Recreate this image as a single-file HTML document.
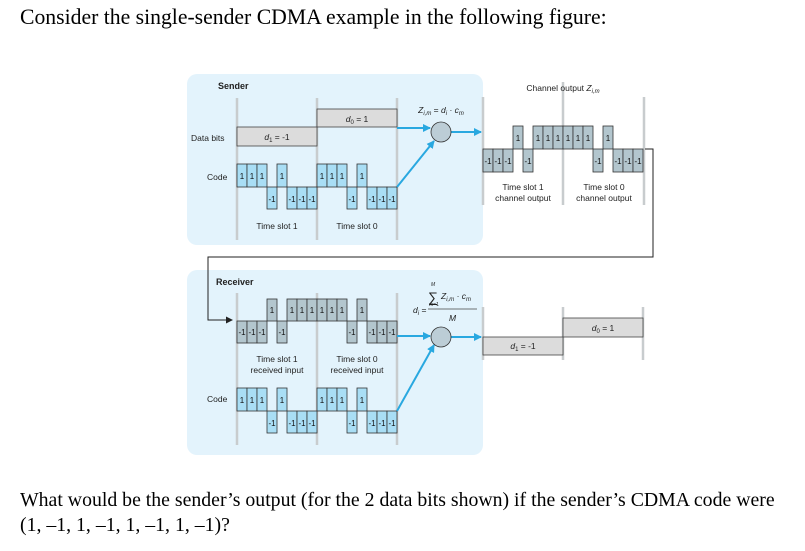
<!DOCTYPE html>
<html><head><meta charset="utf-8"><style>
html,body{margin:0;padding:0;background:#fff;}
body{width:805px;height:551px;position:relative;overflow:hidden;}
.q{position:absolute;left:20px;font-family:"Liberation Serif",serif;font-size:19.8px;color:#000;white-space:nowrap;line-height:1;}
svg{position:absolute;left:0;top:0;}
svg text{font-family:"Liberation Sans",sans-serif;}
.c text{font-size:8px;text-anchor:middle;fill:#111;}
.b rect{fill:#a9def5;stroke:#333;stroke-width:.8;}
.g rect{fill:#b3c6ce;stroke:#333;stroke-width:.8;}
</style></head><body>
<div class="q" style="top:7px;font-size:21.7px">Consider the single-sender CDMA example in the following figure:</div>
<div class="q" style="top:491px">What would be the sender’s output (for the 2 data bits shown) if the sender’s CDMA code were</div>
<div class="q" style="top:516px">(1, –1, 1, –1, 1, –1, 1, –1)?</div>
<svg width="805" height="551" viewBox="0 0 805 551">
<defs><marker id="ab" markerWidth="8" markerHeight="8" refX="7" refY="4" orient="auto" markerUnits="userSpaceOnUse"><path d="M0,0 L8,4 L0,8z" fill="#29a8e0"/></marker>
<marker id="ak" markerWidth="7" markerHeight="7" refX="6" refY="3.5" orient="auto" markerUnits="userSpaceOnUse"><path d="M0,0 L7,3.5 L0,7z" fill="#222"/></marker></defs>
<rect x="187" y="74" width="296" height="171" rx="10" fill="#e3f3fc"/>
<rect x="187" y="270" width="296" height="185" rx="10" fill="#e3f3fc"/>
<g stroke="#c8ccce" stroke-width="2.5">
<line x1="237" y1="98" x2="237" y2="240"/><line x1="317" y1="98" x2="317" y2="240"/><line x1="397" y1="98" x2="397" y2="240"/>
<line x1="237" y1="293" x2="237" y2="445"/><line x1="317" y1="293" x2="317" y2="445"/><line x1="397" y1="293" x2="397" y2="445"/>
<line x1="483" y1="97" x2="483" y2="205"/><line x1="563" y1="82" x2="563" y2="205"/><line x1="644" y1="97" x2="644" y2="205"/>
<line x1="483" y1="307" x2="483" y2="360"/><line x1="563" y1="307" x2="563" y2="360"/><line x1="643" y1="307" x2="643" y2="360"/>
</g>
<text x="218" y="89" font-size="9" font-weight="bold" fill="#222">Sender</text>
<text x="216" y="285" font-size="9" font-weight="bold" fill="#222">Receiver</text>
<text x="191" y="141" font-size="8.5" fill="#222">Data bits</text>
<text x="207" y="180" font-size="8.5" fill="#222">Code</text>
<text x="207" y="402" font-size="8.5" fill="#222">Code</text>
<rect x="317" y="109" width="80" height="18" fill="#dcdcdc" stroke="#444" stroke-width=".8"/>
<rect x="237" y="127" width="80" height="19" fill="#dcdcdc" stroke="#444" stroke-width=".8"/>
<text x="357" y="122" font-size="8.5" text-anchor="middle" fill="#222"><tspan font-style="italic">d</tspan><tspan font-size="6" dy="2">0</tspan><tspan dy="-2"> = 1</tspan></text>
<text x="277" y="140" font-size="8.5" text-anchor="middle" fill="#222"><tspan font-style="italic">d</tspan><tspan font-size="6" dy="2">1</tspan><tspan dy="-2"> = -1</tspan></text>
<rect x="563" y="318" width="80" height="19" fill="#dcdcdc" stroke="#444" stroke-width=".8"/>
<rect x="483" y="337" width="80" height="18" fill="#dcdcdc" stroke="#444" stroke-width=".8"/>
<text x="603" y="331" font-size="8.5" text-anchor="middle" fill="#222"><tspan font-style="italic">d</tspan><tspan font-size="6" dy="2">0</tspan><tspan dy="-2"> = 1</tspan></text>
<text x="523" y="349" font-size="8.5" text-anchor="middle" fill="#222"><tspan font-style="italic">d</tspan><tspan font-size="6" dy="2">1</tspan><tspan dy="-2"> = -1</tspan></text>
<g class="c b" transform="translate(237,187)"><rect x="0" y="-23" width="10" height="23"/><rect x="10" y="-23" width="10" height="23"/><rect x="20" y="-23" width="10" height="23"/><rect x="30" y="0" width="10" height="22"/><rect x="40" y="-23" width="10" height="23"/><rect x="50" y="0" width="10" height="22"/><rect x="60" y="0" width="10" height="22"/><rect x="70" y="0" width="10" height="22"/><text x="5" y="-8">1</text><text x="15" y="-8">1</text><text x="25" y="-8">1</text><text x="35" y="15">-1</text><text x="45" y="-8">1</text><text x="55" y="15">-1</text><text x="65" y="15">-1</text><text x="75" y="15">-1</text></g>
<g class="c b" transform="translate(317,187)"><rect x="0" y="-23" width="10" height="23"/><rect x="10" y="-23" width="10" height="23"/><rect x="20" y="-23" width="10" height="23"/><rect x="30" y="0" width="10" height="22"/><rect x="40" y="-23" width="10" height="23"/><rect x="50" y="0" width="10" height="22"/><rect x="60" y="0" width="10" height="22"/><rect x="70" y="0" width="10" height="22"/><text x="5" y="-8">1</text><text x="15" y="-8">1</text><text x="25" y="-8">1</text><text x="35" y="15">-1</text><text x="45" y="-8">1</text><text x="55" y="15">-1</text><text x="65" y="15">-1</text><text x="75" y="15">-1</text></g>
<g class="c b" transform="translate(237,411)"><rect x="0" y="-23" width="10" height="23"/><rect x="10" y="-23" width="10" height="23"/><rect x="20" y="-23" width="10" height="23"/><rect x="30" y="0" width="10" height="22"/><rect x="40" y="-23" width="10" height="23"/><rect x="50" y="0" width="10" height="22"/><rect x="60" y="0" width="10" height="22"/><rect x="70" y="0" width="10" height="22"/><text x="5" y="-8">1</text><text x="15" y="-8">1</text><text x="25" y="-8">1</text><text x="35" y="15">-1</text><text x="45" y="-8">1</text><text x="55" y="15">-1</text><text x="65" y="15">-1</text><text x="75" y="15">-1</text></g>
<g class="c b" transform="translate(317,411)"><rect x="0" y="-23" width="10" height="23"/><rect x="10" y="-23" width="10" height="23"/><rect x="20" y="-23" width="10" height="23"/><rect x="30" y="0" width="10" height="22"/><rect x="40" y="-23" width="10" height="23"/><rect x="50" y="0" width="10" height="22"/><rect x="60" y="0" width="10" height="22"/><rect x="70" y="0" width="10" height="22"/><text x="5" y="-8">1</text><text x="15" y="-8">1</text><text x="25" y="-8">1</text><text x="35" y="15">-1</text><text x="45" y="-8">1</text><text x="55" y="15">-1</text><text x="65" y="15">-1</text><text x="75" y="15">-1</text></g>
<g class="c g" transform="translate(483,149)"><rect x="0" y="0" width="10" height="23"/><rect x="10" y="0" width="10" height="23"/><rect x="20" y="0" width="10" height="23"/><rect x="30" y="-23" width="10" height="23"/><rect x="40" y="0" width="10" height="23"/><rect x="50" y="-23" width="10" height="23"/><rect x="60" y="-23" width="10" height="23"/><rect x="70" y="-23" width="10" height="23"/><text x="5" y="15">-1</text><text x="15" y="15">-1</text><text x="25" y="15">-1</text><text x="35" y="-8">1</text><text x="45" y="15">-1</text><text x="55" y="-8">1</text><text x="65" y="-8">1</text><text x="75" y="-8">1</text></g>
<g class="c g" transform="translate(563,149)"><rect x="0" y="-23" width="10" height="23"/><rect x="10" y="-23" width="10" height="23"/><rect x="20" y="-23" width="10" height="23"/><rect x="30" y="0" width="10" height="23"/><rect x="40" y="-23" width="10" height="23"/><rect x="50" y="0" width="10" height="23"/><rect x="60" y="0" width="10" height="23"/><rect x="70" y="0" width="10" height="23"/><text x="5" y="-8">1</text><text x="15" y="-8">1</text><text x="25" y="-8">1</text><text x="35" y="15">-1</text><text x="45" y="-8">1</text><text x="55" y="15">-1</text><text x="65" y="15">-1</text><text x="75" y="15">-1</text></g>
<g class="c g" transform="translate(237,321)"><rect x="0" y="0" width="10" height="22"/><rect x="10" y="0" width="10" height="22"/><rect x="20" y="0" width="10" height="22"/><rect x="30" y="-22" width="10" height="22"/><rect x="40" y="0" width="10" height="22"/><rect x="50" y="-22" width="10" height="22"/><rect x="60" y="-22" width="10" height="22"/><rect x="70" y="-22" width="10" height="22"/><text x="5" y="14">-1</text><text x="15" y="14">-1</text><text x="25" y="14">-1</text><text x="35" y="-8">1</text><text x="45" y="14">-1</text><text x="55" y="-8">1</text><text x="65" y="-8">1</text><text x="75" y="-8">1</text></g>
<g class="c g" transform="translate(317,321)"><rect x="0" y="-22" width="10" height="22"/><rect x="10" y="-22" width="10" height="22"/><rect x="20" y="-22" width="10" height="22"/><rect x="30" y="0" width="10" height="22"/><rect x="40" y="-22" width="10" height="22"/><rect x="50" y="0" width="10" height="22"/><rect x="60" y="0" width="10" height="22"/><rect x="70" y="0" width="10" height="22"/><text x="5" y="-8">1</text><text x="15" y="-8">1</text><text x="25" y="-8">1</text><text x="35" y="14">-1</text><text x="45" y="-8">1</text><text x="55" y="14">-1</text><text x="65" y="14">-1</text><text x="75" y="14">-1</text></g>
<g font-size="8.5" text-anchor="middle" fill="#222">
<text x="277" y="229">Time slot 1</text><text x="357" y="229">Time slot 0</text>
<text x="523" y="190">Time slot 1</text><text x="523" y="201">channel output</text>
<text x="604" y="190">Time slot 0</text><text x="604" y="201">channel output</text>
<text x="277" y="362">Time slot 1</text><text x="277" y="373">received input</text>
<text x="357" y="362">Time slot 0</text><text x="357" y="373">received input</text>
<text x="563" y="91">Channel output <tspan font-style="italic">Z</tspan><tspan font-size="6" dy="2" font-style="italic">i,m</tspan></text>
</g>
<g stroke="#29a8e0" stroke-width="2" fill="none">
<line x1="397" y1="128" x2="430" y2="128" marker-end="url(#ab)"/>
<line x1="397" y1="187" x2="434" y2="141" marker-end="url(#ab)"/>
<line x1="451" y1="132" x2="481" y2="132" marker-end="url(#ab)"/>
<line x1="397" y1="336" x2="430" y2="336" marker-end="url(#ab)"/>
<line x1="397" y1="411" x2="434" y2="345" marker-end="url(#ab)"/>
<line x1="451" y1="337" x2="481" y2="337" marker-end="url(#ab)"/>
</g>
<circle cx="441" cy="132" r="10" fill="#bccdd6" stroke="#333" stroke-width=".8"/>
<circle cx="441" cy="337" r="10" fill="#bccdd6" stroke="#333" stroke-width=".8"/>
<text x="441" y="113" font-size="8.5" text-anchor="middle" fill="#222" font-style="italic">Z<tspan font-size="6" dy="2">i,m</tspan><tspan dy="-2" font-style="normal"> = </tspan>d<tspan font-size="6" dy="2">i</tspan><tspan dy="-2" font-style="normal"> · </tspan>c<tspan font-size="6" dy="2">m</tspan></text>
<g fill="#222">
<text x="413" y="313" font-size="8.5" font-style="italic">d<tspan font-size="6" dy="2">i</tspan><tspan dy="-2" font-style="normal"> =</tspan></text>
<text x="428" y="302" font-size="14">∑</text>
<text x="431" y="286" font-size="5" font-style="italic">M</text>
<text x="429" y="306" font-size="5">m=1</text>
<text x="441" y="299" font-size="8.5" font-style="italic">Z<tspan font-size="6" dy="2">i,m</tspan><tspan dy="-2" font-style="normal"> · </tspan>c<tspan font-size="6" dy="2">m</tspan></text>
<line x1="428" y1="309" x2="477" y2="309" stroke="#444" stroke-width=".8"/>
<text x="449" y="321" font-size="8.5" font-style="italic">M</text>
</g>
<polyline points="645,149 653,149 653,257 208,257 208,320 232,320" fill="none" stroke="#222" stroke-width="1" marker-end="url(#ak)"/>
</svg>
</body></html>
